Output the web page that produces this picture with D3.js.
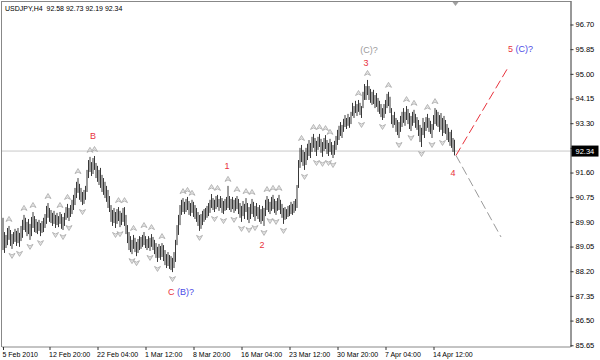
<!DOCTYPE html>
<html>
<head>
<meta charset="utf-8">
<script src="https://cdn.jsdelivr.net/npm/d3@7/dist/d3.min.js"></script>
<style>
  body { margin: 0; background: #fff; }
  text { font-family: "Liberation Sans", Arial, sans-serif; }
</style>
</head>
<body>
<div id="chart"></div>
<script>
// USDJPY H4 bars, 5 Feb 2010 16:00 .. 16 Apr 2010 20:00
const highs = [
  90.04, 89.55, 89.45, 89.69, 89.76, 89.62, 89.48, 89.55, 89.66, 89.59,
  89.69, 89.52, 89.76, 89.97, 90.14, 90.04, 89.90, 90.00, 89.83, 90.07,
  90.24, 90.10, 90.00, 89.90, 89.97, 89.86, 89.93, 90.04, 90.17, 90.45,
  90.55, 90.38, 90.31, 90.21, 90.28, 90.14, 90.21, 90.10, 90.24, 90.17,
  90.07, 90.21, 90.41, 90.52, 90.38, 90.48, 90.66, 90.83, 91.07, 91.28,
  91.41, 91.21, 91.07, 90.93, 91.00, 91.14, 91.69, 92.03, 92.14, 91.96,
  92.10, 92.17, 91.93, 91.83, 91.69, 91.76, 91.52, 91.41, 91.28, 91.14,
  91.00, 90.79, 90.48, 90.31, 90.38, 90.24, 90.34, 90.41, 90.28, 90.21,
  90.38, 90.41, 90.14, 89.79, 89.55, 89.41, 89.28, 89.45, 89.35, 89.21,
  89.31, 89.41, 89.38, 89.45, 89.55, 89.41, 89.31, 89.41, 89.35, 89.48,
  89.38, 89.28, 89.17, 89.04, 89.14, 89.07, 89.17, 89.10, 88.93, 88.79,
  88.86, 88.76, 88.72, 88.66, 88.86, 89.28, 89.79, 90.14, 90.48, 90.66,
  90.72, 90.59, 90.69, 90.76, 90.62, 90.55, 90.66, 90.59, 90.48, 90.38,
  90.24, 90.14, 90.17, 90.28, 90.34, 90.38, 90.45, 90.55, 90.66, 90.86,
  90.72, 90.66, 90.79, 90.83, 90.69, 90.79, 90.72, 90.62, 90.69, 90.76,
  91.14, 90.79, 90.69, 90.76, 90.66, 90.72, 90.79, 90.69, 90.55, 90.45,
  90.62, 90.52, 90.72, 90.55, 90.41, 90.52, 90.69, 90.59, 90.45, 90.55,
  90.41, 90.48, 90.34, 90.45, 90.38, 90.66, 90.79, 90.69, 90.59, 90.76,
  90.83, 90.69, 90.62, 90.72, 90.83, 90.66, 90.52, 90.38, 90.41, 90.34,
  90.45, 90.48, 90.59, 90.52, 90.62, 90.69, 91.17, 92.03, 92.45, 92.55,
  92.38, 92.31, 92.45, 92.59, 92.72, 92.62, 92.83, 92.93, 92.79, 92.69,
  92.83, 92.93, 92.76, 92.65, 92.79, 92.89, 92.72, 92.62, 92.76, 92.65,
  92.55, 92.69, 92.86, 93.07, 93.21, 93.34, 93.24, 93.45, 93.58, 93.48,
  93.62, 93.51, 93.69, 94.00, 93.89, 94.07, 93.96, 94.10, 94.00, 93.89,
  94.38, 94.65, 94.58, 94.79, 94.58, 94.48, 94.38, 94.45, 94.27, 94.34,
  94.17, 94.07, 93.96, 93.82, 93.96, 94.10, 94.31, 94.38, 94.21, 93.82,
  93.58, 93.69, 93.48, 93.41, 93.34, 93.55, 93.69, 93.82, 93.69, 93.89,
  93.79, 93.65, 93.55, 93.69, 93.76, 93.62, 93.51, 93.41, 93.24, 93.14,
  93.48, 93.34, 93.51, 93.62, 93.48, 93.38, 93.27, 93.58, 93.82, 93.76,
  93.69, 93.58, 93.65, 93.48, 93.55, 93.41, 93.27, 93.14, 93.00, 93.07,
  92.79, 92.73
];
const lows = [
  88.93, 88.83, 89.00, 89.10, 89.28, 89.07, 88.97, 89.14, 89.21, 89.07,
  89.17, 89.04, 89.24, 89.35, 89.62, 89.55, 89.41, 89.48, 89.28, 89.41,
  89.69, 89.55, 89.52, 89.48, 89.59, 89.41, 89.52, 89.55, 89.69, 89.83,
  90.04, 89.90, 89.86, 89.76, 89.83, 89.69, 89.79, 89.72, 89.83, 89.66,
  89.62, 89.76, 89.97, 90.04, 89.93, 90.07, 90.17, 90.31, 90.48, 90.72,
  90.90, 90.66, 90.59, 90.48, 90.52, 90.66, 90.93, 91.41, 91.62, 91.48,
  91.55, 91.69, 91.41, 91.28, 91.17, 91.07, 90.93, 90.83, 90.72, 90.59,
  90.38, 90.24, 89.90, 89.76, 89.86, 89.69, 89.83, 89.93, 89.72, 89.79,
  89.90, 89.76, 89.48, 89.17, 88.93, 88.86, 88.79, 88.97, 88.86, 88.72,
  88.83, 88.93, 88.97, 89.04, 89.10, 89.00, 88.93, 89.00, 88.90, 89.04,
  88.93, 88.79, 88.66, 88.52, 88.66, 88.59, 88.69, 88.55, 88.41, 88.31,
  88.38, 88.28, 88.24, 88.17, 88.31, 88.52, 89.10, 89.45, 89.79, 90.14,
  90.24, 90.17, 90.24, 90.31, 90.14, 90.10, 90.21, 90.07, 90.00, 89.90,
  89.76, 89.59, 89.66, 89.79, 89.90, 89.97, 90.04, 90.10, 90.21, 90.38,
  90.31, 90.24, 90.34, 90.41, 90.28, 90.38, 90.21, 90.17, 90.28, 90.31,
  90.38, 90.31, 90.24, 90.34, 90.21, 90.28, 90.34, 90.17, 90.04, 89.90,
  90.10, 90.00, 90.24, 89.97, 89.86, 90.00, 90.17, 90.07, 89.93, 90.10,
  90.00, 89.90, 89.83, 89.93, 89.76, 90.10, 90.31, 90.24, 90.17, 90.28,
  90.34, 90.21, 90.14, 90.28, 90.31, 90.17, 90.04, 89.83, 89.97, 90.00,
  90.07, 90.10, 90.17, 90.14, 90.21, 90.28, 90.38, 91.07, 91.76, 91.96,
  91.83, 91.69, 91.86, 92.03, 92.17, 92.10, 92.31, 92.45, 92.31, 92.17,
  92.38, 92.48, 92.28, 92.14, 92.34, 92.41, 92.24, 92.17, 92.31, 92.21,
  92.10, 92.21, 92.38, 92.55, 92.72, 92.86, 92.79, 93.00, 93.17, 93.10,
  93.21, 93.14, 93.27, 93.55, 93.48, 93.65, 93.55, 93.69, 93.58, 93.48,
  93.82, 94.10, 94.10, 94.27, 94.10, 94.00, 93.93, 93.96, 93.82, 93.86,
  93.69, 93.62, 93.51, 93.41, 93.48, 93.62, 93.82, 93.89, 93.65, 93.27,
  93.14, 93.24, 93.00, 92.89, 92.79, 93.00, 93.17, 93.31, 93.21, 93.41,
  93.27, 93.10, 93.03, 93.21, 93.31, 93.14, 93.07, 92.86, 92.65, 92.48,
  92.89, 92.79, 93.03, 93.14, 93.00, 92.93, 92.79, 93.07, 93.27, 93.21,
  93.17, 93.00, 93.07, 92.86, 92.96, 92.93, 92.72, 92.65, 92.52, 92.45,
  92.31, 92.19
];

// x axis: bar index of each date label
const dateTicks = [0, 31, 63, 95, 127, 159, 191, 223, 255, 287];
const dateLabels = ['5 Feb 2010', '12 Feb 20:00', '22 Feb 04:00', '1 Mar 12:00', '8 Mar 20:00',
  '16 Mar 04:00', '23 Mar 12:00', '30 Mar 20:00', '7 Apr 04:00', '14 Apr 12:00'];
// price scale marks (92.45 sits under the last-price box, so it gets a mark but no label)
const priceTicks = [96.70, 95.85, 95.00, 94.15, 93.30, 92.45, 91.60, 90.75, 89.90, 89.05, 88.20, 87.35, 86.50, 85.65];
const hiddenTicks = [92.45];

const title = 'USDJPY,H4  92.58 92.73 92.19 92.34';
const lastPrice = 92.34;

// wave marks: bar index, price, text parts
const waveLabels = [
  { idx: 60, price: 92.86, parts: [['B', 'red']] },
  { idx: 149.3, price: 91.83, parts: [['1', 'red']] },
  { idx: 172.7, price: 89.11, parts: [['2', 'red']] },
  { idx: 242, price: 95.37, parts: [['3', 'red']] },
  { idx: 244, price: 95.82, parts: [['(C)?', 'grey']] },
  { idx: 300, price: 91.58, parts: [['4', 'red']] },
  { idx: 345, price: 95.86, parts: [['5 ', 'red'], ['(C)?', 'blue']] },
  { idx: 118.7, price: 87.48, parts: [['C ', 'red'], ['(B)?', 'blue']] }
];
// projected legs from wave 4
const projections = [
  { from: [302, 92.19], to: [337.3, 95.27], kind: 'red' },
  { from: [302, 92.19], to: [332, 89.38], kind: 'grey' }
];

const colors = { red: '#e8323c', blue: '#4a4ae6', grey: '#9a9a9a' };

const width = 600, height = 360;
const plotL = 2, plotR = 570.5, plotT = 2, plotB = 347;

const svg = d3.select('#chart').append('svg')
    .attr('width', width)
    .attr('height', height)
    .style('display', 'block');

const x = d3.scaleLinear().domain([0, highs.length - 1]).range([3, 454.5]);
const y = d3.scaleLinear().domain([85.59, 97.475]).range([plotB, plotT]);

// frame
svg.append('line').attr('x1', plotL).attr('x2', plotR).attr('y1', plotT - 0.5).attr('y2', plotT - 0.5)
    .attr('stroke', '#888').attr('stroke-width', 1);
svg.append('line').attr('x1', plotL - 0.5).attr('x2', plotL - 0.5).attr('y1', plotT - 1).attr('y2', plotB)
    .attr('stroke', '#888').attr('stroke-width', 1);
svg.append('line').attr('x1', plotL).attr('x2', plotR).attr('y1', plotB).attr('y2', plotB)
    .attr('stroke', '#888').attr('stroke-width', 1);

// bid line
svg.append('line')
    .attr('x1', plotL).attr('x2', plotR)
    .attr('y1', y(lastPrice)).attr('y2', y(lastPrice))
    .attr('stroke', '#c8c8c8').attr('stroke-width', 1);

// bars
svg.append('g').selectAll('line')
    .data(d3.range(highs.length))
    .join('line')
    .attr('x1', i => x(i)).attr('x2', i => x(i))
    .attr('y1', i => y(highs[i])).attr('y2', i => y(lows[i]))
    .attr('stroke', '#222')
    .attr('stroke-width', 0.9);

// Bill Williams fractals
const upFr = [], downFr = [];
for (let i = 2; i < highs.length - 2; i++) {
    if (highs[i] > highs[i - 1] && highs[i] > highs[i - 2] && highs[i] >= highs[i + 1] && highs[i] >= highs[i + 2]) upFr.push(i);
    if (lows[i] < lows[i - 1] && lows[i] < lows[i - 2] && lows[i] <= lows[i + 1] && lows[i] <= lows[i + 2]) downFr.push(i);
}
const arrowUp = 'M-3,2.5 L0,-2.5 L3,2.5 L0,1 Z';
const arrowDown = 'M-3,-2.5 L0,2.5 L3,-2.5 L0,-1 Z';
svg.append('g').selectAll('path')
    .data(upFr).join('path')
    .attr('transform', i => `translate(${x(i)},${y(highs[i]) - 7})`)
    .attr('d', arrowUp)
    .attr('fill', '#e6e6e6').attr('stroke', '#a8a8a8').attr('stroke-width', 0.8);
svg.append('g').selectAll('path')
    .data(downFr).join('path')
    .attr('transform', i => `translate(${x(i)},${y(lows[i]) + 7})`)
    .attr('d', arrowDown)
    .attr('fill', '#e6e6e6').attr('stroke', '#a8a8a8').attr('stroke-width', 0.8);

// projected waves
projections.forEach(p => {
    svg.append('line')
        .attr('x1', x(p.from[0])).attr('y1', y(p.from[1]))
        .attr('x2', x(p.to[0])).attr('y2', y(p.to[1]))
        .attr('stroke', colors[p.kind])
        .attr('stroke-width', 1)
        .attr('stroke-dasharray', '9,4');
});

// wave labels
waveLabels.forEach(w => {
    const t = svg.append('text')
        .attr('x', x(w.idx)).attr('y', y(w.price))
        .attr('text-anchor', 'middle')
        .attr('dominant-baseline', 'central')
        .style('font-size', '9px');
    w.parts.forEach(p => t.append('tspan').attr('fill', colors[p[1]]).text(p[0]));
});

// chart shift marker
svg.append('path')
    .attr('transform', `translate(${x(highs.length - 1) + 1},${plotT})`)
    .attr('d', 'M-3,0 L3,0 L0,4 Z')
    .attr('fill', '#a0a0a0');

// price axis
const yAxis = svg.append('g')
    .attr('transform', `translate(${plotR},0)`)
    .call(d3.axisRight(y).tickValues(priceTicks).tickSize(3).tickSizeOuter(0)
        .tickFormat(d => hiddenTicks.includes(d) ? '' : d3.format('.2f')(d)));
yAxis.select('.domain').attr('stroke', '#333').attr('d', `M0.5,${plotT - 1}V${plotB}`);
yAxis.selectAll('.tick line').attr('stroke', '#333');
yAxis.selectAll('.tick text').attr('x', 5).style('font-size', '7.5px').attr('fill', '#000')
    .style('font-family', '"Liberation Sans", Arial, sans-serif');

// last price box
svg.append('rect')
    .attr('x', plotR + 1).attr('y', y(lastPrice) - 5.5)
    .attr('width', 27).attr('height', 11)
    .attr('fill', '#000');
svg.append('text')
    .attr('x', plotR + 5).attr('y', y(lastPrice))
    .attr('dominant-baseline', 'central')
    .attr('fill', '#fff')
    .style('font-size', '7.5px')
    .text(lastPrice.toFixed(2));

// time axis
const xAxis = svg.append('g')
    .attr('transform', `translate(0,${plotB})`)
    .call(d3.axisBottom(x).tickValues(dateTicks).tickSize(3).tickFormat((d, i) => dateLabels[i]));
xAxis.select('.domain').remove();
xAxis.selectAll('.tick line').attr('stroke', '#333');
xAxis.selectAll('.tick text')
    .attr('text-anchor', 'start').attr('dx', -1).attr('y', 5)
    .attr('fill', '#000')
    .style('font-size', '7px')
    .style('font-family', '"Liberation Sans", Arial, sans-serif');

// title
svg.append('text')
    .attr('x', 5).attr('y', 11)
    .attr('fill', '#000')
    .style('font-size', '7px')
    .style('white-space', 'pre')
    .text(title);
</script>
</body>
</html>
